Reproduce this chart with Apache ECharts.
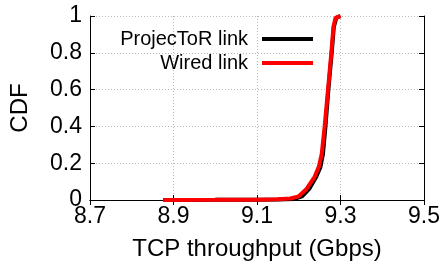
<!DOCTYPE html>
<html><head><meta charset="utf-8">
<script src="https://cdn.jsdelivr.net/npm/echarts@6/dist/echarts.min.js"></script>
<style>html,body{margin:0;padding:0;background:#fff}#c{width:445px;height:267px}</style>
</head><body><div id="c"></div>
<script>
const xTicks = [8.7, 8.9, 9.1, 9.3, 9.5];
const yTicks = [0, 0.2, 0.4, 0.6, 0.8, 1];
const seriesNames = ['ProjecToR link', 'Wired link'];
const projectorX = [8.875, 9.0, 9.1, 9.15, 9.19, 9.208, 9.225, 9.242, 9.252, 9.258, 9.264, 9.271, 9.279, 9.284, 9.29, 9.3];
const projectorY = [0, 0.001, 0.002, 0.003, 0.006, 0.02, 0.06, 0.126, 0.18, 0.25, 0.4, 0.6, 0.8, 0.94, 0.99, 1.0];
const wiredX = [8.875, 9.0, 9.1, 9.15, 9.18, 9.2, 9.218, 9.238, 9.248, 9.255, 9.262, 9.27, 9.278, 9.283, 9.288, 9.3];
const wiredY = [0, 0.001, 0.002, 0.004, 0.008, 0.02, 0.058, 0.126, 0.18, 0.25, 0.4, 0.6, 0.8, 0.94, 0.99, 1.0];

const font = 'Liberation Sans';
const zip = (xs, ys) => xs.map((x, i) => [x, ys[i]]);
const chart = echarts.init(document.getElementById('c'), null, {renderer: 'canvas'});
const tick = {show: true, inside: true, length: 5, lineStyle: {color: '#000', width: 1}};
const grid = {show: true, lineStyle: {color: '#b8b8b8', type: [1, 2], width: 1}};
chart.setOption({
  animation: false,
  grid: {left: 86, right: 21, top: 16, bottom: 67},
  xAxis: [{
    type: 'value', min: 8.7, max: 9.5,
    name: 'TCP throughput (Gbps)', nameLocation: 'middle', nameGap: 37,
    nameTextStyle: {fontFamily: font, fontSize: 24, color: '#000'},
    axisLine: {lineStyle: {color: '#000', width: 1}},
    axisTick: Object.assign({customValues: xTicks}, tick),
    axisLabel: {customValues: xTicks, fontFamily: font, fontSize: 23, color: '#000', margin: 5,
      formatter: v => v.toFixed(1)},
    splitLine: grid
  }, {
    type: 'value', min: 8.7, max: 9.5, position: 'top',
    axisLine: {show: true, lineStyle: {color: '#000', width: 1}},
    axisTick: Object.assign({customValues: xTicks}, tick),
    axisLabel: {show: false}, splitLine: {show: false}
  }],
  yAxis: [{
    type: 'value', min: 0, max: 1, interval: 0.2,
    name: 'CDF', nameLocation: 'middle', nameGap: 58,
    nameTextStyle: {fontFamily: font, fontSize: 24, color: '#000'},
    axisLine: {show: true, lineStyle: {color: '#000', width: 1}},
    axisTick: tick,
    axisLabel: {fontFamily: font, fontSize: 23, color: '#000', margin: 8,
      formatter: v => yTicks.includes(Math.round(v*10)/10) ? String(Math.round(v*10)/10) : ''},
    splitLine: grid
  }, {
    type: 'value', min: 0, max: 1, interval: 0.2, position: 'right',
    axisLine: {show: true, lineStyle: {color: '#000', width: 1}},
    axisTick: tick, axisLabel: {show: false}, splitLine: {show: false}
  }],
  legend: {
    orient: 'vertical', right: 127, top: 24, align: 'right',
    itemWidth: 51, itemHeight: 4, itemGap: 4, icon: 'rect',
    textStyle: {fontFamily: font, fontSize: 20, color: '#000', lineHeight: 20, padding: [0, 9, 0, 0]},
    data: seriesNames
  },
  series: [{
    name: seriesNames[0], type: 'line', data: zip(projectorX, projectorY),
    showSymbol: false, color: '#000', lineStyle: {width: 4, color: '#000'}
  }, {
    name: seriesNames[1], type: 'line', data: zip(wiredX, wiredY),
    showSymbol: false, color: '#ff0000', lineStyle: {width: 4, color: '#ff0000'}
  }]
});
</script></body></html>
